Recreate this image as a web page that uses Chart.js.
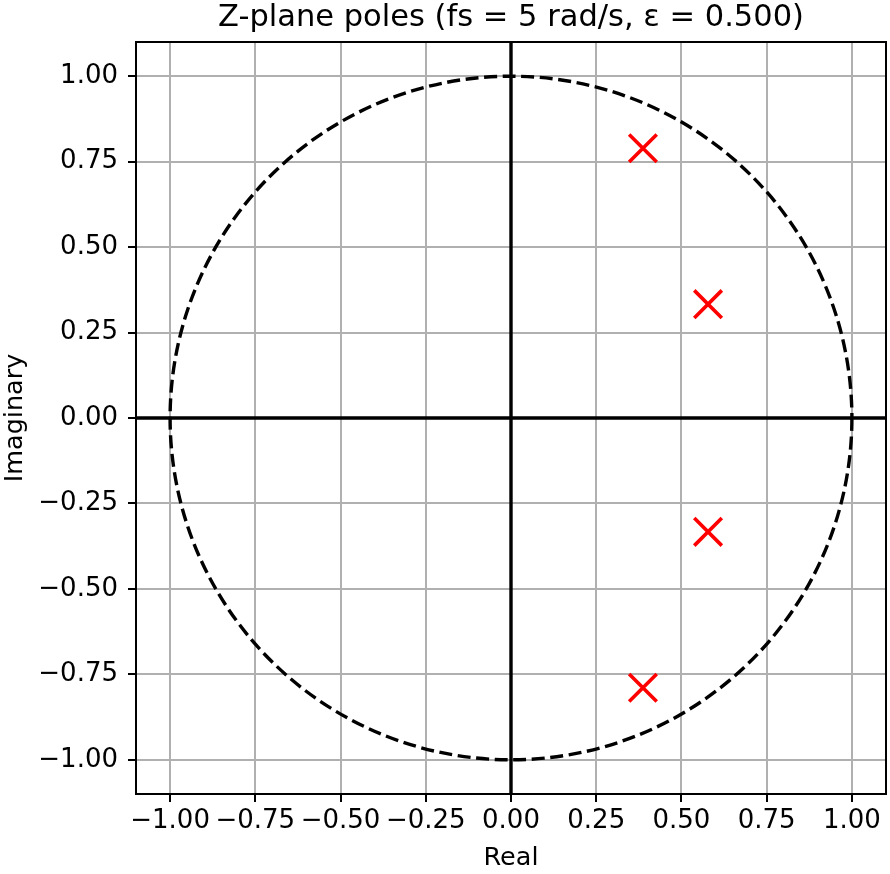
<!DOCTYPE html>
<html><head><meta charset="utf-8">
<script src="https://cdn.jsdelivr.net/npm/chart.js@4/dist/chart.umd.min.js"></script>
<style>html,body{margin:0;padding:0;background:#fff;overflow:hidden}#c{display:block;width:890px;height:874px}</style>
</head><body><canvas id="c" width="890" height="874"></canvas>
<script>
const titleText = "Z-plane poles (fs = 5 rad/s, \u03b5 = 0.500)";
const poleReal = [0.387, 0.578, 0.578, 0.387];
const poleImag = [0.789, 0.333, -0.333, -0.789];
const xTicks = [-1, -0.75, -0.5, -0.25, 0, 0.25, 0.5, 0.75, 1];
const yTicks = [-1, -0.75, -0.5, -0.25, 0, 0.25, 0.5, 0.75, 1];
const axisMin = -1.1, axisMax = 1.1;
const unitRadius = 1;

const FONT = "'DejaVu Sans', sans-serif";
const fmt = v => v.toFixed(2).replace('-', '\u2212');

// markers may overflow the plot edge; don't let them shrink the plot area
if (Chart.ScatterController) {
  Chart.ScatterController.prototype.getMaxOverflow = function () { return 0; };
}

const overlay = {
  id: 'overlay',
  beforeDatasetsDraw(chart) {
    const {ctx, chartArea: a, scales: {x, y}} = chart;
    ctx.save();
    ctx.beginPath(); ctx.rect(a.left, a.top, a.right - a.left, a.bottom - a.top); ctx.clip();
    ctx.strokeStyle = '#000'; ctx.lineWidth = 3.4;
    ctx.beginPath();
    ctx.moveTo(a.left, y.getPixelForValue(0)); ctx.lineTo(a.right, y.getPixelForValue(0));
    ctx.moveTo(x.getPixelForValue(0), a.top); ctx.lineTo(x.getPixelForValue(0), a.bottom);
    ctx.stroke();
    const cx = x.getPixelForValue(0), cy = y.getPixelForValue(0);
    const rx = x.getPixelForValue(unitRadius) - cx, ry = cy - y.getPixelForValue(unitRadius);
    ctx.setLineDash([13, 5.6]); ctx.lineWidth = 3.4;
    ctx.beginPath(); ctx.ellipse(cx, cy, rx, ry, 0, 0, Math.PI * 2); ctx.stroke();
    ctx.restore();
  },
  afterDraw(chart) {
    const {ctx, chartArea: a} = chart;
    ctx.save(); ctx.strokeStyle = '#000'; ctx.lineWidth = 2;
    ctx.strokeRect(a.left, a.top, a.right - a.left, a.bottom - a.top);
    ctx.restore();
  }
};

new Chart(document.getElementById('c'), {
  type: 'scatter',
  data: { datasets: [{
    data: poleReal.map((r, i) => ({x: r, y: poleImag[i]})),
    pointStyle: 'crossRot', pointRadius: 19.5, pointHoverRadius: 19.5,
    borderColor: '#ff0000', backgroundColor: '#ff0000', borderWidth: 3.6, pointBorderWidth: 3.6
  }]},
  options: {
    responsive: false, animation: false, devicePixelRatio: 1,
    layout: { padding: { left: 0, right: 4, top: 0, bottom: 0 } },
    plugins: {
      legend: { display: false }, tooltip: { enabled: false },
      title: { display: true, text: titleText, color: '#000', fullSize: false,
        font: { family: FONT, size: 30.5, weight: 'normal', lineHeight: 1 },
        padding: { top: 3, bottom: 8.5 } }
    },
    scales: {
      x: { type: 'linear', min: axisMin, max: axisMax,
        afterBuildTicks: s => { s.ticks = xTicks.map(v => ({value: v})); },
        afterFit: s => { s.height = 80; s.paddingLeft = 0; s.paddingRight = 0; },
        grid: { color: '#b0b0b0', lineWidth: 2, tickColor: '#000', tickLength: 8, tickWidth: 2 },
        border: { color: '#000', width: 2 },
        ticks: { callback: v => fmt(v), color: '#000', font: { family: FONT, size: 26 }, padding: 4, maxRotation: 0, autoSkip: false },
        title: { display: true, text: 'Real', color: '#000', font: { family: FONT, size: 25.5 }, padding: { top: 0, bottom: 0 } }
      },
      y: { type: 'linear', min: axisMin, max: axisMax,
        afterBuildTicks: s => { s.ticks = yTicks.map(v => ({value: v})); },
        afterFit: s => { s.width = 136; s.paddingTop = 0; s.paddingBottom = 0; },
        grid: { color: '#b0b0b0', lineWidth: 2, tickColor: '#000', tickLength: 8, tickWidth: 2 },
        border: { color: '#000', width: 2 },
        ticks: { callback: v => fmt(v), color: '#000', font: { family: FONT, size: 26 }, padding: 10, autoSkip: false },
        title: { display: true, text: 'Imaginary', color: '#000', font: { family: FONT, size: 25.5 }, padding: { top: 0, bottom: 2 } }
      }
    }
  },
  plugins: [overlay]
});
</script></body></html>
